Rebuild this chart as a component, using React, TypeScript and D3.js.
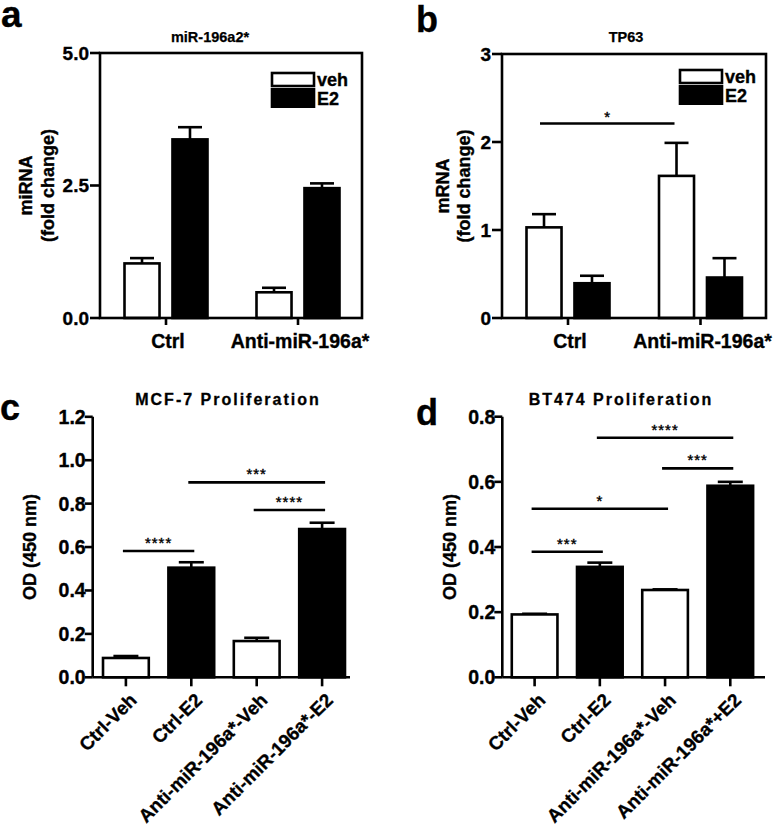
import React from "react";
import * as d3 from "d3";

const FONT = "'Liberation Sans', Arial, Helvetica, sans-serif";

// ---------- Panel a: miR-196a2* ----------
const groupsAB = ["Ctrl", "Anti-miR-196a*"];
const seriesAB = ["veh", "E2"];
const aVeh = [1.03, 0.485];
const aVehErr = [0.1, 0.085];
const aE2 = [3.37, 2.45];
const aE2Err = [0.23, 0.09];
const aTicks = [0, 2.5, 5];
const aTickLabels = ["0.0", "2.5", "5.0"];

// ---------- Panel b: TP63 ----------
const bVeh = [1.03, 1.615];
const bVehErr = [0.15, 0.375];
const bE2 = [0.395, 0.46];
const bE2Err = [0.085, 0.22];
const bTicks = [0, 1, 2, 3];
const bTickLabels = ["0", "1", "2", "3"];
const bSig = [{ from: [0, 0], to: [1, 0], y: 2.21, label: "*" }];

// ---------- Panel c: MCF-7 Proliferation ----------
const cCategories = ["Ctrl-Veh", "Ctrl-E2", "Anti-miR-196a*-Veh", "Anti-miR-196a*-E2"];
const cValues = [0.089, 0.505, 0.167, 0.683];
const cErr = [0.009, 0.025, 0.015, 0.029];
const cTicks = [0, 0.2, 0.4, 0.6, 0.8, 1.0, 1.2];
const cTickLabels = ["0.0", "0.2", "0.4", "0.6", "0.8", "1.0", "1.2"];
const cSig = [
  { from: 0, to: 1, y: 0.582, label: "****" },
  { from: 1, to: 3, y: 0.898, label: "***" },
  { from: 2, to: 3, y: 0.771, label: "****" },
];

// ---------- Panel d: BT474 Proliferation ----------
const dCategories = ["Ctrl-Veh", "Ctrl-E2", "Anti-miR-196a*-Veh", "Anti-miR-196a*+E2"];
const dValues = [0.193, 0.339, 0.268, 0.588];
const dErr = [0.002, 0.013, 0.002, 0.012];
const dTicks = [0, 0.2, 0.4, 0.6, 0.8];
const dTickLabels = ["0.0", "0.2", "0.4", "0.6", "0.8"];
const dSig = [
  { from: 0, to: 1, y: 0.3855, label: "***" },
  { from: 0, to: 2, y: 0.5175, label: "*" },
  { from: 2, to: 3, y: 0.6415, label: "***" },
  { from: 1, to: 3, y: 0.7355, label: "****" },
];

const SW = 2.6;
const BOLD = { fontWeight: "bold" as const, fontFamily: FONT, stroke: "#000", strokeWidth: 0.35 };

type GroupedProps = {
  letter: string;
  letterX: number;
  letterY: number;
  letterSize: number;
  title: string;
  titleX: number;
  yLabel: [string, string];
  yLabelX: [number, number];
  left: number;
  right: number;
  top: number;
  bottom: number;
  yMax: number;
  ticks: number[];
  tickLabels: string[];
  tickLen: number;
  groupCenters: [number, number];
  veh: number[];
  vehErr: number[];
  e2: number[];
  e2Err: number[];
  legendX: number;
  legendY: number;
  sig?: { from: number[]; to: number[]; y: number; label: string }[];
};

function GroupedPanel(p: GroupedProps) {
  const y = d3.scaleLinear().domain([0, p.yMax]).range([p.bottom, p.top]);
  const gx = d3.scalePoint<string>().domain(groupsAB).range(p.groupCenters);
  const sx = d3.scaleBand<string>().domain(seriesAB).range([-41.5, 41.5]).paddingInner(0.27);
  const bw = sx.bandwidth();
  const series = [
    { name: "veh", vals: p.veh, errs: p.vehErr, fill: "#fff" },
    { name: "E2", vals: p.e2, errs: p.e2Err, fill: "#000" },
  ];
  const cx = (gi: number, si: number) =>
    (gx(groupsAB[gi]) as number) + (sx(seriesAB[si]) as number) + bw / 2;
  const yMid = (p.top + p.bottom) / 2;
  return (
    <g>
      <text x={p.letterX} y={p.letterY} fontSize={p.letterSize} {...BOLD}>
        {p.letter}
      </text>
      <text x={p.titleX} y={42} textAnchor="middle" fontSize={14.5} {...BOLD} strokeWidth={0.25}>
        {p.title}
      </text>
      {p.yLabel.map((t, i) => (
        <text
          key={i}
          transform={`translate(${p.yLabelX[i]},${yMid}) rotate(-90)`}
          textAnchor="middle"
          dy="0.35em"
          fontSize={18}
          {...BOLD}
        >
          {t}
        </text>
      ))}
      {series.map((s, si) =>
        s.vals.map((v, gi) => {
          const c = cx(gi, si);
          const yt = y(v);
          const ye = y(v + s.errs[gi]);
          return (
            <g key={`${si}-${gi}`}>
              <line x1={c} x2={c} y1={yt} y2={ye} stroke="#000" strokeWidth={SW} />
              <line x1={c - 12} x2={c + 12} y1={ye} y2={ye} stroke="#000" strokeWidth={SW} />
              <rect
                x={c - bw / 2}
                y={yt}
                width={bw}
                height={p.bottom - yt}
                fill={s.fill}
                stroke="#000"
                strokeWidth={SW}
              />
            </g>
          );
        })
      )}
      {/* frame */}
      <rect
        x={p.left}
        y={p.top}
        width={p.right - p.left}
        height={p.bottom - p.top}
        fill="none"
        stroke="#000"
        strokeWidth={SW}
      />
      {p.ticks.map((t, i) => (
        <g key={i}>
          <line x1={p.left - p.tickLen} x2={p.left} y1={y(t)} y2={y(t)} stroke="#000" strokeWidth={SW} />
          <text
            x={p.left - p.tickLen - 1}
            y={y(t)}
            dy="0.36em"
            textAnchor="end"
            fontSize={19}
            {...BOLD}
          >
            {p.tickLabels[i]}
          </text>
        </g>
      ))}
      {groupsAB.map((g) => (
        <g key={g}>
          <line
            x1={gx(g) as number}
            x2={gx(g) as number}
            y1={p.bottom}
            y2={p.bottom + 7}
            stroke="#000"
            strokeWidth={SW}
          />
          <text
            x={(gx(g) as number) + 2}
            y={p.bottom + 30}
            textAnchor="middle"
            fontSize={19.5}
            {...BOLD}
          >
            {g}
          </text>
        </g>
      ))}
      {/* legend */}
      <rect x={p.legendX} y={p.legendY} width={42} height={13} fill="#fff" stroke="#000" strokeWidth={SW} />
      <rect x={p.legendX - 1.3} y={p.legendY + 15} width={44.6} height={20} fill="#000" />
      <text x={p.legendX + 45} y={p.legendY + 13} fontSize={18} {...BOLD}>
        {seriesAB[0]}
      </text>
      <text x={p.legendX + 45} y={p.legendY + 32} fontSize={18} {...BOLD}>
        {seriesAB[1]}
      </text>
      {(p.sig || []).map((s, i) => {
        const x1 = cx(s.from[0], s.from[1]) - 4;
        const x2 = cx(s.to[0], s.to[1]) - 2;
        return (
          <g key={i}>
            <line x1={x1} x2={x2} y1={y(s.y)} y2={y(s.y)} stroke="#000" strokeWidth={SW} />
            <text
              x={(x1 + x2) / 2}
              y={y(s.y) - 2}
              textAnchor="middle"
              fontSize={15}
              fontFamily={FONT}
              stroke="#000"
              strokeWidth={0.4}
            >
              {s.label}
            </text>
          </g>
        );
      })}
    </g>
  );
}

type SingleProps = {
  letter: string;
  letterX: number;
  letterY: number;
  title: string;
  titleX: number;
  yLabelX: number;
  left: number;
  bandStart: number;
  bandEnd: number;
  axisEnd: number;
  top: number;
  bottom: number;
  yMax: number;
  ticks: number[];
  tickLabels: string[];
  categories: string[];
  values: number[];
  errs: number[];
  sig: { from: number; to: number; y: number; label: string }[];
};

function SinglePanel(p: SingleProps) {
  const y = d3.scaleLinear().domain([0, p.yMax]).range([p.bottom, p.top]);
  const x = d3
    .scaleBand<string>()
    .domain(p.categories)
    .range([p.bandStart, p.bandEnd])
    .paddingInner(0.3)
    .paddingOuter(0.15);
  const bw = x.bandwidth();
  const cx = (i: number) => (x(p.categories[i]) as number) + bw / 2;
  return (
    <g>
      <text x={p.letterX} y={p.letterY} fontSize={36} {...BOLD}>
        {p.letter}
      </text>
      <text
        x={p.titleX}
        y={405}
        textAnchor="middle"
        fontSize={16}
        letterSpacing={2}
        {...BOLD}
        strokeWidth={0.3}
      >
        {p.title}
      </text>
      <text
        transform={`translate(${p.yLabelX},${(p.top + p.bottom) / 2}) rotate(-90)`}
        textAnchor="middle"
        dy="0.35em"
        fontSize={18}
        {...BOLD}
      >
        OD (450 nm)
      </text>
      {p.values.map((v, i) => {
        const c = cx(i);
        const yt = y(v);
        const ye = y(v + p.errs[i]);
        return (
          <g key={i}>
            <line x1={c} x2={c} y1={yt} y2={ye} stroke="#000" strokeWidth={SW} />
            <line x1={c - 12.5} x2={c + 12.5} y1={ye} y2={ye} stroke="#000" strokeWidth={SW} />
            <rect
              x={c - bw / 2}
              y={yt}
              width={bw}
              height={p.bottom - yt}
              fill={i % 2 === 0 ? "#fff" : "#000"}
              stroke="#000"
              strokeWidth={SW}
            />
          </g>
        );
      })}
      <line x1={p.left} x2={p.left} y1={p.top} y2={p.bottom} stroke="#000" strokeWidth={SW} />
      <line x1={p.left} x2={p.axisEnd} y1={p.bottom} y2={p.bottom} stroke="#000" strokeWidth={SW} />
      {p.ticks.map((t, i) => (
        <g key={i}>
          <line x1={p.left - 8} x2={p.left} y1={y(t)} y2={y(t)} stroke="#000" strokeWidth={SW} />
          <text
            x={p.left - 7}
            y={y(t)}
            dy="0.36em"
            textAnchor="end"
            fontSize={19.5}
            {...BOLD}
          >
            {p.tickLabels[i]}
          </text>
        </g>
      ))}
      {p.categories.map((c, i) => (
        <g key={c}>
          <line x1={cx(i)} x2={cx(i)} y1={p.bottom} y2={p.bottom + 9} stroke="#000" strokeWidth={SW} />
          <text
            transform={`translate(${cx(i) + 12},${p.bottom + 24}) rotate(-45)`}
            textAnchor="end"
            fontSize={18.8}
            {...BOLD}
          >
            {c}
          </text>
        </g>
      ))}
      {p.sig.map((s, i) => {
        const x1 = cx(s.from) - 3;
        const x2 = cx(s.to) + 3;
        return (
          <g key={i}>
            <line x1={x1} x2={x2} y1={y(s.y)} y2={y(s.y)} stroke="#000" strokeWidth={SW} />
            <text
              x={(x1 + x2) / 2}
              y={y(s.y) - 3}
              textAnchor="middle"
              fontSize={15}
              letterSpacing={1}
              fontFamily={FONT}
              stroke="#000"
              strokeWidth={0.4}
            >
              {s.label}
            </text>
          </g>
        );
      })}
    </g>
  );
}

export default function App() {
  return (
    <svg
      width={776}
      height={832}
      viewBox="0 0 776 832"
      style={{ position: "absolute", left: 0, top: 0, background: "#fff" }}
    >
      <rect width={776} height={832} fill="#fff" />
      <GroupedPanel
        letter="a"
        letterX={1}
        letterY={27}
        letterSize={37}
        title="miR-196a2*"
        titleX={210}
        yLabel={["miRNA", "(fold change)"]}
        yLabelX={[26, 48]}
        left={100}
        right={362}
        top={53}
        bottom={318}
        yMax={5}
        ticks={aTicks}
        tickLabels={aTickLabels}
        tickLen={10}
        groupCenters={[166, 298]}
        veh={aVeh}
        vehErr={aVehErr}
        e2={aE2}
        e2Err={aE2Err}
        legendX={272}
        legendY={73}
      />
      <GroupedPanel
        letter="b"
        letterX={416}
        letterY={32}
        letterSize={36}
        title="TP63"
        titleX={626}
        yLabel={["mRNA", "(fold change)"]}
        yLabelX={[443, 464]}
        left={502}
        right={766}
        top={54}
        bottom={318}
        yMax={3}
        ticks={bTicks}
        tickLabels={bTickLabels}
        tickLen={10}
        groupCenters={[568, 700.5]}
        veh={bVeh}
        vehErr={bVehErr}
        e2={bE2}
        e2Err={bE2Err}
        legendX={680}
        legendY={70}
        sig={bSig}
      />
      <SinglePanel
        letter="c"
        letterX={0}
        letterY={420}
        title="MCF-7 Proliferation"
        titleX={228}
        yLabelX={30}
        left={92.7}
        bandStart={93.2}
        bandEnd={354.8}
        axisEnd={350}
        top={416.8}
        bottom={677.3}
        yMax={1.2}
        ticks={cTicks}
        tickLabels={cTickLabels}
        categories={cCategories}
        values={cValues}
        errs={cErr}
        sig={cSig}
      />
      <SinglePanel
        letter="d"
        letterX={416}
        letterY={425}
        title="BT474 Proliferation"
        titleX={621}
        yLabelX={450}
        left={502.3}
        bandStart={502}
        bandEnd={762.9}
        axisEnd={765}
        top={416.7}
        bottom={677.3}
        yMax={0.8}
        ticks={dTicks}
        tickLabels={dTickLabels}
        categories={dCategories}
        values={dValues}
        errs={dErr}
        sig={dSig}
      />
    </svg>
  );
}
